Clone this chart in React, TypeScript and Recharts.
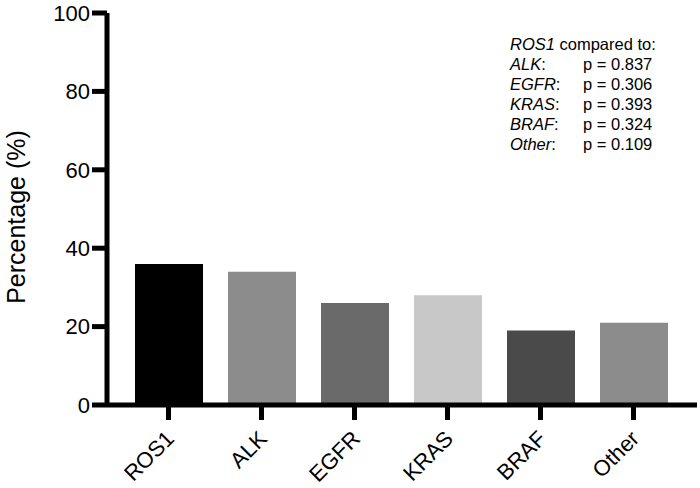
import React from 'react';
import { BarChart, Bar, XAxis, YAxis, Cell } from 'recharts';

const genes = ['ROS1', 'ALK', 'EGFR', 'KRAS', 'BRAF', 'Other'];
const percentages = [36, 34, 26, 28, 19, 21];
const barColors = ['#000000', '#8c8c8c', '#6a6a6a', '#c8c8c8', '#4a4a4a', '#8c8c8c'];
const yTicks = [0, 20, 40, 60, 80, 100];

const comparedGenes = ['ALK', 'EGFR', 'KRAS', 'BRAF', 'Other'];
const pValues = ['0.837', '0.306', '0.393', '0.324', '0.109'];

const data = genes.map((g, i) => ({ name: g, value: percentages[i], color: barColors[i] }));

const FONT = '"Liberation Sans", Arial, Helvetica, sans-serif';

const GeneTick = ({ x, y, payload }: any) => (
  <g transform={`translate(${x + 7},${y + 18})`}>
    <text
      x={0}
      y={0}
      textAnchor="end"
      transform="rotate(-45)"
      fontSize={22}
      fontFamily={FONT}
      fill="#000"
    >
      {payload.value}
    </text>
  </g>
);

const YLabel = () => (
  <text
    x={25}
    y={217}
    transform="rotate(-90, 25, 217)"
    textAnchor="middle"
    fontSize={25}
    fontFamily={FONT}
    fill="#000"
  >
    Percentage (%)
  </text>
);

export default function App() {
  return (
    <div style={{ position: 'absolute', left: 0, top: 0, width: 700, height: 488, background: '#fff' }}>
      <BarChart
        width={700}
        height={488}
        data={data}
        margin={{ top: 13, right: 3, bottom: 53, left: 0 }}
      >
        <XAxis
          dataKey="name"
          height={30}
          interval={0}
          padding={{ left: 15, right: 17 }}
          axisLine={{ stroke: '#000', strokeWidth: 5 }}
          tickLine={{ stroke: '#000', strokeWidth: 5 }}
          tickSize={15}
          tick={<GeneTick />}
        />
        <YAxis
          width={107}
          domain={[0, 100]}
          ticks={yTicks}
          interval={0}
          axisLine={{ stroke: '#000', strokeWidth: 5 }}
          tickLine={{ stroke: '#000', strokeWidth: 5 }}
          tickSize={15}
          tickMargin={2}
          tick={{ fill: '#000', fontSize: 22, fontFamily: FONT }}
          label={<YLabel />}
        />
        <Bar dataKey="value" barSize={68} isAnimationActive={false}>
          {data.map((d, i) => (
            <Cell key={`cell-${i}`} fill={d.color} />
          ))}
        </Bar>
      </BarChart>
      <div
        style={{
          position: 'absolute',
          left: 510,
          top: 34,
          fontFamily: FONT,
          fontSize: 16.5,
          lineHeight: '20px',
          color: '#000',
        }}
      >
        <div>
          <i>ROS1</i> compared to:
        </div>
        {comparedGenes.map((g, i) => (
          <div key={g} style={{ position: 'relative', height: 20 }}>
            <i>{g}</i>:
            <span style={{ position: 'absolute', left: 73, whiteSpace: 'nowrap' }}>p = {pValues[i]}</span>
          </div>
        ))}
      </div>
    </div>
  );
}
